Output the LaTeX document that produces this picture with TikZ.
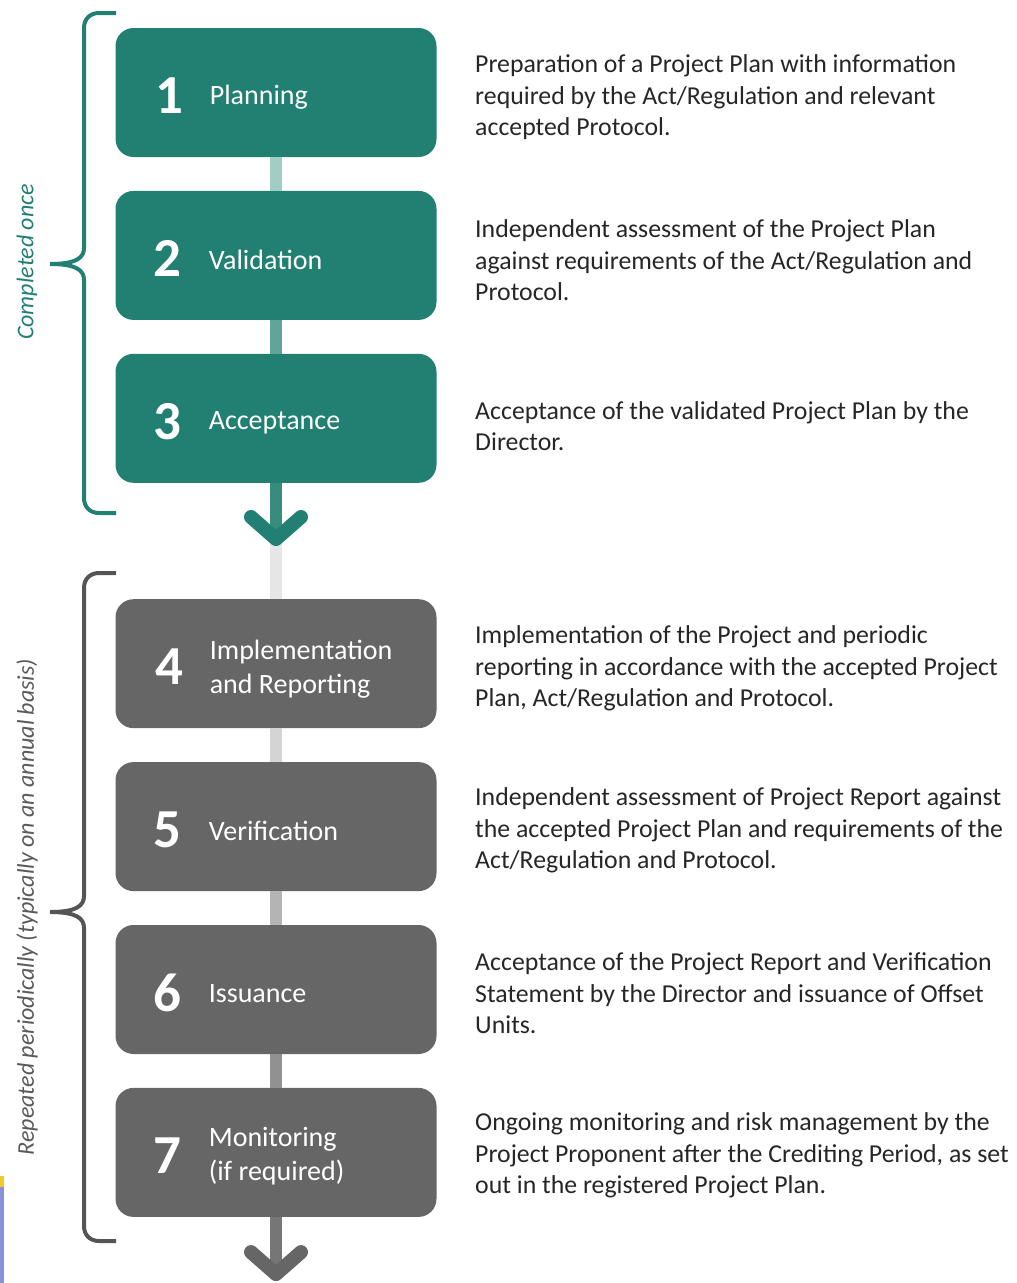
\documentclass[tikz,border=0pt]{standalone}
\usepackage{fontspec}
\setmainfont{Carlito}
\usetikzlibrary{positioning}

\definecolor{tealbox}{RGB}{33,128,114}
\definecolor{greybox}{RGB}{102,102,102}
\definecolor{textgrey}{RGB}{38,38,38}
\definecolor{sidegrey}{RGB}{90,90,90}
\definecolor{bracegrey}{RGB}{85,85,85}
\definecolor{barA}{RGB}{160,206,197}
\definecolor{barB}{RGB}{98,165,152}
\definecolor{barC}{RGB}{55,140,126}
\definecolor{barD}{RGB}{230,230,230}
\definecolor{barE}{RGB}{212,212,212}
\definecolor{barF}{RGB}{180,180,180}
\definecolor{barG}{RGB}{145,145,145}
\definecolor{barH}{RGB}{118,118,118}
\definecolor{edgeblue}{RGB}{135,145,215}
\definecolor{edgeyellow}{RGB}{240,200,40}

\begin{document}
\begin{tikzpicture}[x=1pt, y=1pt,
  stage/.style={rounded corners=18pt, minimum width=321pt, minimum height=129pt, inner sep=0pt},
  once/.style={stage, fill=tealbox},
  again/.style={stage, fill=greybox},
  num/.style={text=white, font=\fontsize{55}{55}\selectfont\bfseries},
  lbl/.style={text=white, anchor=west, align=left, font=\fontsize{28}{34}\selectfont},
  desc/.style={align=left, text=textgrey, font=\fontsize{25.8}{31.5}\selectfont},
  bar/.style={line width=12pt},
  chev/.style={line width=14pt, line cap=round, line join=round},
  brace/.style={line width=4pt},
  side/.style={rotate=90, font=\fontsize{24}{24}\selectfont\itshape}
]
\useasboundingbox (0,0) rectangle (1017,-1283);

% stages
\node[once] (b1) at (276,-92.5) {};
\node[once, below=33.5pt of b1] (b2) {};
\node[once, below=33.5pt of b2] (b3) {};
\node[again, below=116pt of b3] (b4) {};
\node[again, below=33.5pt of b4] (b5) {};
\node[again, below=33.5pt of b5] (b6) {};
\node[again, below=33.5pt of b6] (b7) {};

\coordinate (a1) at ([yshift=-56pt]b3.south);
\coordinate (a2) at ([yshift=-57pt]b7.south);

% links
\draw[bar, barA] (b1) -- (b2);
\draw[bar, barB] (b2) -- (b3);
\draw[bar, barD] (a1) -- (b4);
\draw[bar, barC] (b3) -- (a1);
\draw[chev, tealbox] ([shift={(-25pt,22pt)}]a1) -- (a1) -- ([shift={(25pt,22pt)}]a1);
\draw[bar, barE] (b4) -- (b5);
\draw[bar, barF] (b5) -- (b6);
\draw[bar, barG] (b6) -- (b7);
\draw[bar, barH] (b7) -- (a2);
\draw[chev, greybox] ([shift={(-25pt,22pt)}]a2) -- (a2) -- ([shift={(25pt,22pt)}]a2);

% numbers and names
\node[num] (n1) at ([shift={(54pt,-3pt)}]b1.west) {1};
\node[num] (n2) at ([shift={(52pt,-3pt)}]b2.west) {2};
\node[num] (n3) at ([shift={(52pt,-3pt)}]b3.west) {3};
\node[num] (n4) at ([shift={(54pt,-3pt)}]b4.west) {4};
\node[num] (n5) at ([shift={(52pt,-3pt)}]b5.west) {5};
\node[num] (n6) at ([shift={(52pt,-3pt)}]b6.west) {6};
\node[num] (n7) at ([shift={(52pt,-3pt)}]b7.west) {7};

\node[lbl] (l1) at ([shift={(91pt,-5pt)}]b1.west) {Planning};
\node[lbl] (l2) at ([shift={(90pt,-4pt)}]b2.west) {Validation};
\node[lbl] (l3) at ([shift={(90pt,-4pt)}]b3.west) {Acceptance};
\node[lbl] (l4) at ([shift={(91pt,-5pt)}]b4.west) {Implementation\\and Reporting};
\node[lbl] (l5) at ([shift={(90pt,-4pt)}]b5.west) {Verification};
\node[lbl] (l6) at ([shift={(90pt,-4pt)}]b6.west) {Issuance};
\node[lbl] (l7) at ([shift={(90pt,-4pt)}]b7.west) {Monitoring\\(if required)};

% descriptions
\node[desc, right=35pt of b1, yshift=-5pt] (d1) {Preparation of a Project Plan with information\\required by the Act/Regulation and relevant\\accepted Protocol.};
\node[desc, right=35pt of b2, yshift=-5pt] (d2) {Independent assessment of the Project Plan\\against requirements of the Act/Regulation and\\Protocol.};
\node[desc, right=35pt of b3, yshift=-8pt] (d3) {Acceptance of the validated Project Plan by the\\Director.};
\node[desc, right=35pt of b4, yshift=-5pt] (d4) {Implementation of the Project and periodic\\reporting in accordance with the accepted Project\\Plan, Act/Regulation and Protocol.};
\node[desc, right=35pt of b5, yshift=-4pt] (d5) {Independent assessment of Project Report against\\the accepted Project Plan and requirements of the\\Act/Regulation and Protocol.};
\node[desc, right=35pt of b6, yshift=-4pt] (d6) {Acceptance of the Project Report and Verification\\Statement by the Director and issuance of Offset\\Units.};
\node[desc, right=35pt of b7, yshift=-3pt] (d7) {Ongoing monitoring and risk management by the\\Project Proponent after the Crediting Period, as set\\out in the registered Project Plan.};

% braces
\draw[brace, tealbox] (116,-13) -- (99,-13) .. controls (90,-13) and (84,-19) .. (84,-28) -- (84,-248) .. controls (84,-258) and (76,-264) .. (50,-264) .. controls (76,-264) and (84,-270) .. (84,-280) -- (84,-498) .. controls (84,-507) and (90,-513) .. (99,-513) -- (116,-513);
\draw[brace, bracegrey] (116,-573) -- (99,-573) .. controls (90,-573) and (84,-579) .. (84,-588) -- (84,-896) .. controls (84,-906) and (76,-912) .. (50,-912) .. controls (76,-912) and (84,-918) .. (84,-928) -- (84,-1226) .. controls (84,-1235) and (90,-1241) .. (99,-1241) -- (116,-1241);

\node[side, text=tealbox] (s1) at (27,-262) {Completed once};
\node[side, text=sidegrey] (s2) at (27,-907) {Repeated periodically (typically on an annual basis)};

% edge strip
\fill[edgeyellow] (0,-1176) rectangle (4,-1187);
\fill[edgeblue] (0,-1187) rectangle (4,-1283);
\end{tikzpicture}
\end{document}
